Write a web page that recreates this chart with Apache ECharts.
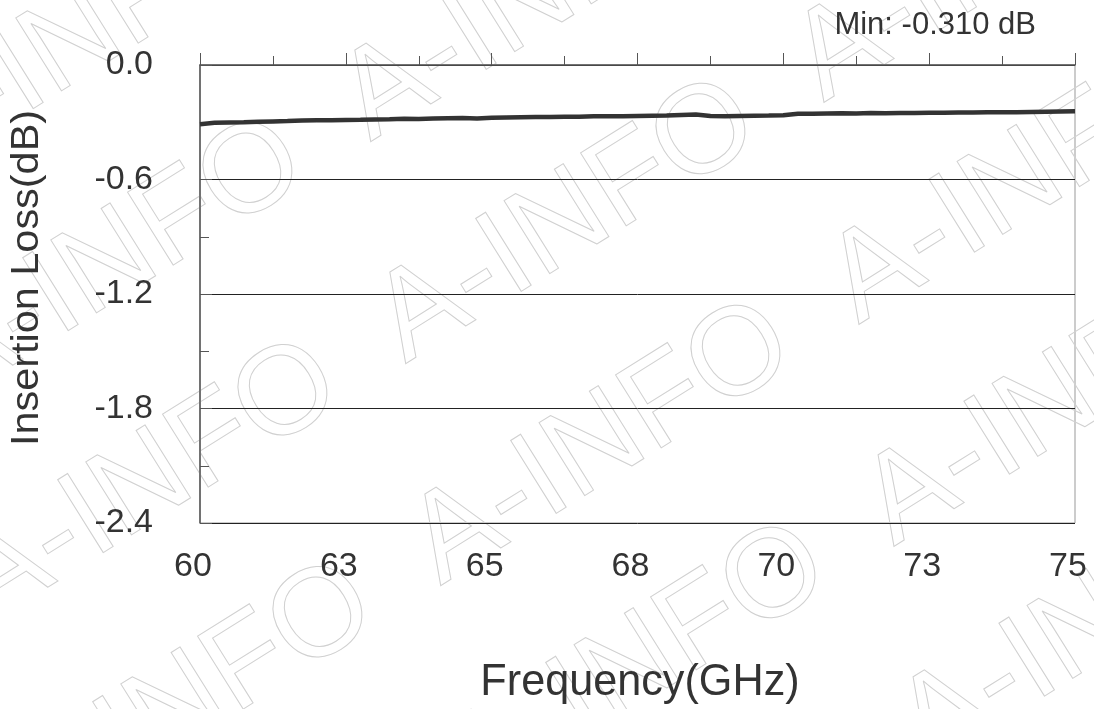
<!DOCTYPE html>
<html>
<head>
<meta charset="utf-8">
<script src="https://cdn.jsdelivr.net/npm/echarts@6/dist/echarts.min.js"></script>
<style>
html,body{margin:0;padding:0;background:#fff;}
#chart{width:1094px;height:709px;}
</style>
</head>
<body>
<div id="chart"></div>
<script>
// Frequency points (GHz)
const freqGHz = [60.00,60.25,60.50,60.75,61.00,61.25,61.50,61.75,62.00,62.25,62.50,62.75,
  63.00,63.25,63.50,63.75,64.00,64.25,64.50,64.75,65.00,65.25,65.50,65.75,66.00,66.25,66.50,66.75,
  67.00,67.25,67.50,67.75,68.00,68.25,68.50,68.75,69.00,69.25,69.50,69.75,70.00,70.25,70.50,70.75,
  71.00,71.25,71.50,71.75,72.00,72.25,72.50,72.75,73.00,73.25,73.50,73.75,74.00,74.25,74.50,74.75,75.00];
// Insertion loss (dB)
const lossDB = [-0.310,-0.303,-0.301,-0.300,-0.298,-0.296,-0.294,-0.291,-0.290,-0.289,-0.288,-0.287,
  -0.285,-0.284,-0.282,-0.283,-0.281,-0.279,-0.278,-0.280,-0.276,-0.275,-0.274,-0.273,-0.272,-0.271,-0.271,-0.269,
  -0.268,-0.268,-0.267,-0.266,-0.265,-0.262,-0.259,-0.267,-0.268,-0.267,-0.266,-0.265,-0.263,-0.255,-0.255,-0.254,
  -0.253,-0.254,-0.252,-0.253,-0.251,-0.251,-0.250,-0.250,-0.249,-0.249,-0.248,-0.248,-0.247,-0.246,-0.245,-0.244,-0.243];
// Tick labels
const xTickValues = [60, 62.5, 65, 67.5, 70, 72.5, 75];
const xTickLabels = ['60','63','65','68','70','73','75'];
const yTickValues = [-2.4, -1.8, -1.2, -0.6, 0];
const yTickLabels = ['-2.4','-1.8','-1.2','-0.6','0.0'];
const xName = 'Frequency(GHz)';
const yName = 'Insertion Loss(dB)';
const watermarkText = 'A-INFO';

function nearestLabel(vals, labels, v){
  let best = -1, bd = 1e9;
  for (let i = 0; i < vals.length; i++){ const d = Math.abs(vals[i]-v); if (d < bd){bd = d; best = i;} }
  return bd < 1e-6 ? labels[best] : '';
}

const minLoss = Math.min(...lossDB);
const FONT = 'Liberation Sans, Arial, sans-serif';

// watermark rows
const wmRow = Array(6).fill(watermarkText).join('  ');
const graphics = [];
const ang = 32 * Math.PI / 180;
for (let n = -3; n <= 4; n++){
  graphics.push({
    type: 'text', x: -449 + 35*n, y: 857 + 222*n, rotation: ang, z: 0, silent: true,
    style: { text: wmRow, fontSize: 125, fontFamily: FONT,
      fill: 'rgba(0,0,0,0)', stroke: '#d0d0d0', lineWidth: 1, verticalAlign: 'middle', align: 'left' }
  });
}
// axis names
graphics.push({
  type: 'text', x: 640, y: 683, scaleX: 0.96, z: 10, silent: true,
  style: { text: xName, fontSize: 45, fontFamily: FONT, fill: '#333', align: 'center', verticalAlign: 'middle' }
});
graphics.push({
  type: 'text', x: 28, y: 278, rotation: Math.PI/2, scaleX: 1.09, z: 10, silent: true,
  style: { text: yName, fontSize: 38, fontFamily: FONT, fill: '#333', align: 'center', verticalAlign: 'middle' }
});

const chart = echarts.init(document.getElementById('chart'));
chart.setOption({
  backgroundColor: '#fff',
  animation: false,
  textStyle: { fontFamily: FONT },
  title: {
    text: 'Min: ' + minLoss.toFixed(3) + ' dB',
    right: 53, top: 5,
    textStyle: { fontSize: 31, fontWeight: 'normal', color: '#333' }
  },
  graphic: graphics,
  grid: { left: 200, right: 19, top: 65, bottom: 186, show: true, borderColor: '#999', borderWidth: 1, backgroundColor: 'transparent' },
  xAxis: {
    type: 'value', min: 60, max: 75, interval: 2.5,
    axisLine: { show: true, lineStyle: { color: '#555', width: 1.5 } },
    axisTick: { show: true, inside: true, length: 12, lineStyle: { color: '#555' } },
    minorTick: { show: true, splitNumber: 2, length: 9, lineStyle: { color: '#555' } },
    axisLabel: { margin: 27, fontSize: 34, color: '#333', padding: [0, 14, 0, 0],
      formatter: v => nearestLabel(xTickValues, xTickLabels, v) },
    splitLine: { show: false }
  },
  yAxis: {
    type: 'value', min: -2.4, max: 0, interval: 0.6,
    axisLine: { show: true, lineStyle: { color: '#555', width: 1.5 } },
    axisTick: { show: true, inside: true, length: 12, lineStyle: { color: '#555' } },
    minorTick: { show: true, splitNumber: 2, length: 9, lineStyle: { color: '#555' } },
    axisLabel: { margin: 47, fontSize: 34, color: '#333', padding: [0, 0, 5, 0],
      formatter: v => nearestLabel(yTickValues, yTickLabels, v) },
    splitLine: { show: true, lineStyle: { color: '#222', width: 1 } }
  },
  series: [{
    type: 'line', data: freqGHz.map((f, i) => [f, lossDB[i]]),
    showSymbol: false, symbol: 'none', smooth: false,
    lineStyle: { color: '#333', width: 4.5 }, z: 5
  }]
});
</script>
</body>
</html>
